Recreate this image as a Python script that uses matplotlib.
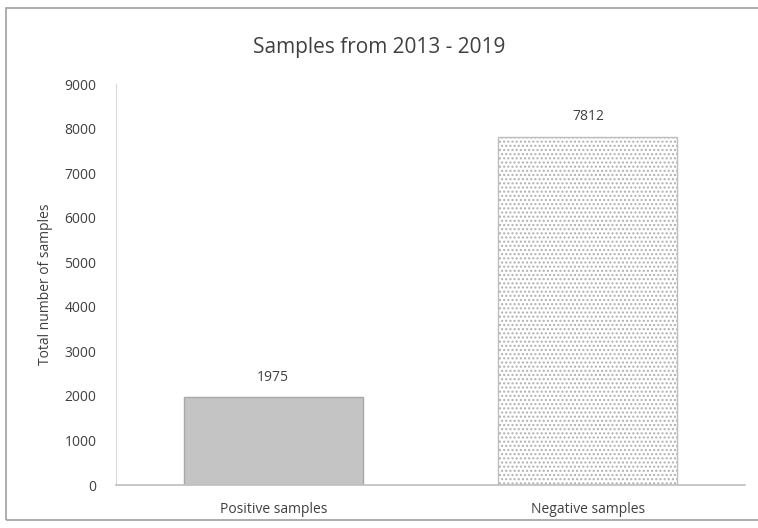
import matplotlib.pyplot as plt
from matplotlib.patches import Rectangle

# Sample counts
categories = ['Positive samples', 'Negative samples']
counts = [1975, 7812]
y_ticks = [0, 1000, 2000, 3000, 4000, 5000, 6000, 7000, 8000, 9000]

plt.rcParams['font.family'] = ['Open Sans', 'DejaVu Sans']
text_col = '#404040'

fig = plt.figure(figsize=(7.58, 5.28), dpi=100)
ax = fig.add_axes([0.153, 0.0814, 0.83, 0.7595])

x = list(range(len(categories)))
w = 0.57

# Positive: solid grey fill
ax.bar(x[0], counts[0], width=w, color='#c4c4c4', edgecolor='#a8a8a8', linewidth=1)
# Negative: dotted fill, drawn as hatch layer plus outline
ax.bar(x[1], counts[1], width=w, color='white', edgecolor='#b0b0b0',
       hatch='....', linewidth=0)
ax.bar(x[1], counts[1], width=w, color='none', edgecolor='#bdbdbd', linewidth=1)

for xi, c in zip(x, counts):
    ax.annotate(str(c), xy=(xi, c), xytext=(0, 9), textcoords='offset points',
                ha='center', va='bottom', fontsize=10, color=text_col)

ax.set_xlim(-0.5, 1.5)
ax.set_ylim(0, 9000)
ax.set_yticks(y_ticks)
ax.set_xticks(x)
ax.set_xticklabels(categories)
ax.tick_params(axis='both', length=0, labelsize=10, labelcolor=text_col)
ax.tick_params(axis='y', pad=14)
ax.tick_params(axis='x', pad=12)

for s in ['top', 'right']:
    ax.spines[s].set_visible(False)
ax.spines['left'].set_color('#d9d9d9')
ax.spines['bottom'].set_color('#bfbfbf')
ax.spines['bottom'].set_linewidth(1.2)

ax.set_ylabel('Total number of samples', fontsize=10, color=text_col, labelpad=8)
fig.text(0.5, 0.91, 'Samples from 2013 - 2019', ha='center', va='center',
         fontsize=15, color=text_col)

# Chart frame (runs off the right edge)
fig.patches.append(Rectangle((6 / 758, 1 - 520 / 528), 1.1, 512 / 528,
                             transform=fig.transFigure, fill=False,
                             edgecolor='#a0a0a0', linewidth=1.2))

fig.savefig('out.png', dpi=100)
